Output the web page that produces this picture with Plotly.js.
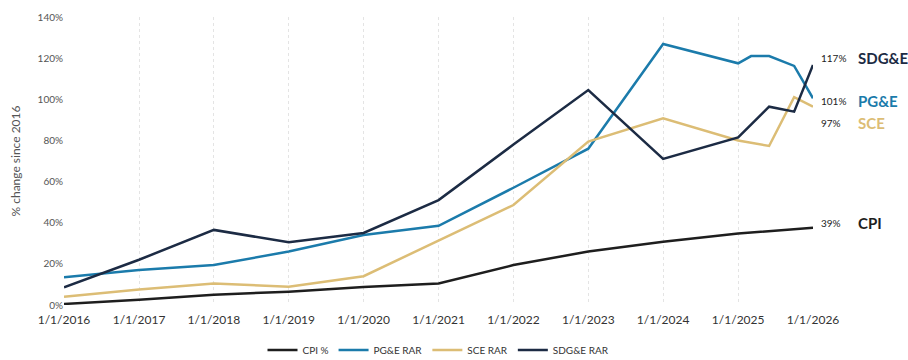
<!DOCTYPE html>
<html>
<head>
<meta charset="utf-8">
<script src="https://cdn.plot.ly/plotly-3.0.1.min.js"></script>
<style>html,body{margin:0;padding:0;background:#fff;}#chart{width:908px;height:360px;}</style>
</head>
<body>
<div id="chart"></div>
<script>
// Data (percent change since 2016)
var yearDates = ["2016-01-01","2017-01-01","2018-01-01","2019-01-01","2020-01-01","2021-01-01","2022-01-01","2023-01-01","2024-01-01","2025-01-01","2026-01-01"];
var cpiValues = [0.5, 2.5, 5, 6.5, 8.8, 10.5, 19.4, 26, 30.8, 34.8, 37.5];

var pgeDates = ["2016-01-01","2017-01-01","2018-01-01","2019-01-01","2020-01-01","2021-01-01","2022-01-01","2023-01-01","2024-01-01","2025-01-01","2025-03-05","2025-06-01","2025-10-01","2026-01-01"];
var pgeValues = [13.5, 17, 19.4, 26, 34, 38.5, 57, 76, 126.9, 117.5, 121, 121, 116.2, 100.5];

var lateDates = ["2016-01-01","2017-01-01","2018-01-01","2019-01-01","2020-01-01","2021-01-01","2022-01-01","2023-01-01","2024-01-01","2025-01-01","2025-06-01","2025-10-01","2026-01-01"];
var sceValues = [4, 7.5, 10.5, 8.9, 14, 31.5, 48.6, 79.4, 90.7, 80, 77.3, 101, 96.4];
var sdgeValues = [8.6, 22, 36.5, 30.5, 35, 51, 78, 104.5, 71, 81.5, 96.4, 94, 116.7];

var seriesNames = ["CPI %", "PG&E RAR", "SCE RAR", "SDG&E RAR"];
var tickLabels = ["0%","20%","40%","60%","80%","100%","120%","140%"];
var tickValues = [0,20,40,60,80,100,120,140];
var endPct = ["117%","101%","97%","39%"];
var endNames = ["SDG&E","PG&E","SCE","CPI"];

var cCPI = "#1e1e1e", cPGE = "#1b7bab", cSCE = "#dcbd75", cSDGE = "#1c2b44";
var fontFam = "Lato, 'Open Sans', sans-serif";

var traces = [
  {x: yearDates, y: cpiValues, name: seriesNames[0], mode: "lines", line: {color: cCPI, width: 2.5}},
  {x: pgeDates, y: pgeValues, name: seriesNames[1], mode: "lines", line: {color: cPGE, width: 2.5}},
  {x: lateDates, y: sceValues, name: seriesNames[2], mode: "lines", line: {color: cSCE, width: 2.5}},
  {x: lateDates, y: sdgeValues, name: seriesNames[3], mode: "lines", line: {color: cSDGE, width: 2.5}}
];

var labelY = [120, 99, 88.5, 40];
var nameColors = [cSDGE, cPGE, cSCE, cCPI];
var annotations = [];
for (var i = 0; i < 4; i++) {
  annotations.push({xref: "paper", yref: "y", x: 1, y: labelY[i], xanchor: "left", xshift: 6, showarrow: false,
    text: endPct[i], font: {family: fontFam, size: 10, color: "#222"}});
  annotations.push({xref: "paper", yref: "y", x: 1, y: labelY[i], xanchor: "left", xshift: 43, showarrow: false,
    text: "<b>" + endNames[i] + "</b>", font: {family: fontFam, size: 15, color: nameColors[i]}});
}

var layout = {
  width: 908, height: 360,
  margin: {l: 64, r: 95, t: 17, b: 55, autoexpand: false},
  paper_bgcolor: "#ffffff", plot_bgcolor: "#ffffff",
  font: {family: fontFam, color: "#333"},
  showlegend: true,
  legend: {orientation: "h", x: 0.5, xanchor: "center", y: -0.156, yanchor: "middle",
    font: {family: fontFam, size: 10, color: "#333"}, itemwidth: 30, tracegroupgap: 0},
  xaxis: {
    type: "date", range: ["2016-01-01", "2026-01-01"],
    tickvals: yearDates, tickformat: "%-m/%-d/%Y",
    showgrid: true, gridcolor: "#e4e4e4", griddash: "dot", gridwidth: 1,
    zeroline: false, showline: false, ticks: "", ticklabelstandoff: 6,
    tickfont: {family: fontFam, size: 12, color: "#333"}
  },
  yaxis: {
    range: [0, 140], tickvals: tickValues, ticktext: tickLabels,
    showgrid: false, zeroline: false, showline: false, ticks: "",
    tickfont: {family: fontFam, size: 10, color: "#555"},
    title: {text: "% change since 2016", font: {family: fontFam, size: 12, color: "#555"}, standoff: 14}
  },
  annotations: annotations
};

Plotly.newPlot("chart", traces, layout, {displayModeBar: false, staticPlot: true});
</script>
</body>
</html>
